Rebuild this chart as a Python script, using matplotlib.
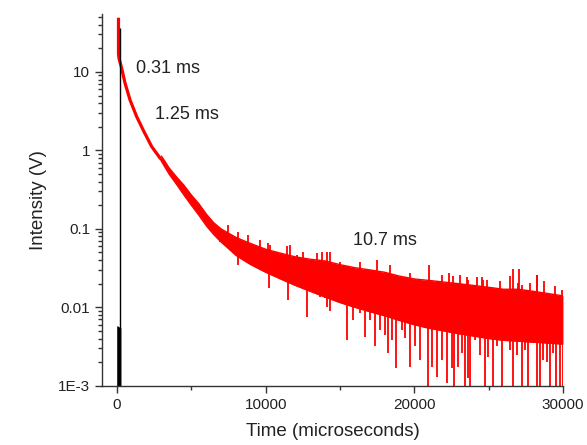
from __future__ import annotations

import matplotlib
matplotlib.use("Agg")
import matplotlib.pyplot as plt
import numpy as np

# early (thin) part of the decay
EARLY_T = [100, 100, 130, 315, 540, 875, 1320, 1770, 2330, 2890, 3200]
EARLY_V = [49.0, 17.0, 15.0, 11.1, 7.2, 4.4, 2.7, 1.8, 1.12, 0.8, 0.7]

# noisy band: upper and lower edge of the solid red body
BAND_T = [3000, 3500, 4000, 4500, 5000, 5500, 6000, 6500, 7000, 7500, 8000, 8500,
          9000, 10000, 11000, 12000, 13000, 14000, 15000, 16000, 17000, 18000,
          19000, 20000, 21000, 22000, 23000, 24000, 25000, 26000, 27000, 28000,
          29000, 30000]
BAND_UP = [0.84, 0.6, 0.46, 0.36, 0.27, 0.21, 0.155, 0.12, 0.1, 0.088, 0.078, 0.071,
           0.065, 0.055, 0.049, 0.044, 0.041, 0.039, 0.035, 0.032, 0.03, 0.028,
           0.025, 0.023, 0.022, 0.021, 0.02, 0.019, 0.018, 0.017, 0.017, 0.016,
           0.015, 0.014]
BAND_LOW = [0.72, 0.5, 0.37, 0.27, 0.2, 0.15, 0.11, 0.085, 0.068, 0.056, 0.046, 0.04,
            0.035, 0.028, 0.023, 0.019, 0.016, 0.0135, 0.0115, 0.01, 0.0088, 0.0078,
            0.0068, 0.006, 0.0054, 0.005, 0.0046, 0.0043, 0.004, 0.0038, 0.0037, 0.0036,
            0.0035, 0.0034]

# spikes sticking up out of the band
UP_SPIKE_T = [7487, 8160, 8830, 9617, 10176, 10319, 11450, 11634, 12083, 12532, 13427,
              13764, 14100, 14320, 15000, 16342, 17508, 18359, 19704, 21005, 21835,
              22330, 22618, 23067, 23517, 23627, 24189, 24525, 24634, 24860, 25757,
              26093, 26429, 26651, 26987, 27054, 27216, 27774, 28224, 28265, 28716,
              29119, 29455, 29906]
UP_SPIKE_V = [0.1125, 0.0924, 0.084, 0.0724, 0.0658, 0.0625, 0.0609, 0.0625, 0.0466,
              0.0514, 0.049, 0.0514, 0.0514, 0.051, 0.0383, 0.0383, 0.0402, 0.0348,
              0.0273, 0.0348, 0.026, 0.0276, 0.025, 0.026, 0.0247, 0.0224, 0.0247,
              0.0247, 0.0224, 0.0224, 0.0215, 0.016, 0.025, 0.0307, 0.0204, 0.0307,
              0.0192, 0.0204, 0.026, 0.026, 0.0215, 0.0144, 0.0185, 0.0164]

# spikes hanging down out of the band
DOWN_SPIKE_T = [6927, 7599, 8160, 8496, 9058, 9617, 10244, 10740, 11076, 11522, 11970,
                12307, 12757, 13201, 13652, 13988, 14100, 14324, 14660, 15447, 15894,
                16342, 16678, 17014, 17350, 17687, 18023, 18247, 18471, 18763, 19143,
                19368, 19704, 20040, 20376, 20891, 21160, 21497, 21833, 22170, 22506,
                22663, 22954, 23180, 23403, 23627, 23739, 24075, 24412, 24748, 24972,
                25308, 25535, 25871, 26207, 26429, 26651, 26880, 27216, 27438, 27660,
                27996, 28225, 28447, 28669, 28897, 29119, 29341, 29523, 29792, 30000]
DOWN_SPIKE_V = [0.0689, 0.054, 0.0348, 0.049, 0.0366, 0.03, 0.0176, 0.0247, 0.03, 0.0125,
                0.0224, 0.0203, 0.00764, 0.0167, 0.0137, 0.0131, 0.0102, 0.00885, 0.0125,
                0.00385, 0.00693, 0.00843, 0.00424, 0.00693, 0.00317, 0.00517, 0.00446,
                0.0026, 0.00385, 0.00168, 0.00517, 0.00405, 0.00176, 0.00317, 0.00214,
                0.001, 0.00176, 0.00131, 0.00214, 0.00109, 0.00168, 0.001, 0.00176,
                0.0026, 0.001, 0.00125, 0.001, 0.00385, 0.00248, 0.001, 0.00236, 0.001,
                0.00317, 0.001, 0.00446, 0.00287, 0.001, 0.00248, 0.001, 0.00287, 0.001,
                0.0035, 0.001, 0.001, 0.00214, 0.00204, 0.001, 0.0026, 0.001, 0.001, 0.001]

# black reference trace near t = 0
BLACK_LINE_T = 180
BLACK_LINE_TOP = 36.0
BLACK_SPIKE_T = [-20, 40, 100, 160, 220, 260]
BLACK_SPIKE_V = [0.0058, 0.0058, 0.0057, 0.0056, 0.0055, 0.0055]

ANNOTATIONS = [("0.31 ms", 1280, 11.2), ("1.25 ms", 2560, 2.83), ("10.7 ms", 15870, 0.0703)]

Y_TICKS = [1e-3, 1e-2, 1e-1, 1, 10]
Y_TICK_LABELS = ["1E-3", "0.01", "0.1", "1", "10"]
X_TICKS = [0, 10000, 20000, 30000]

RED = "#ff0000"
TEXT = "#222222"


def main() -> int:
    plt.rcParams["font.family"] = ["Liberation Sans", "DejaVu Sans"]
    fig = plt.figure(figsize=(5.87, 4.45), dpi=100)
    ax = fig.add_axes([0.174, 0.133, 0.785, 0.836])

    ax.plot(EARLY_T, EARLY_V, color=RED, lw=2.3, solid_capstyle="butt")
    ax.fill_between(BAND_T, BAND_LOW, BAND_UP, color=RED, lw=0)
    ax.plot(BAND_T, BAND_UP, color=RED, lw=1.0)
    ax.plot(BAND_T, BAND_LOW, color=RED, lw=1.0)

    up_base = np.interp(UP_SPIKE_T, BAND_T, BAND_LOW)
    ax.vlines(UP_SPIKE_T, up_base, UP_SPIKE_V, color=RED, lw=1.3)
    down_top = np.interp(DOWN_SPIKE_T, BAND_T, BAND_UP)
    ax.vlines(DOWN_SPIKE_T, DOWN_SPIKE_V, down_top, color=RED, lw=1.3)

    ax.fill_between(BLACK_SPIKE_T, 1e-4, BLACK_SPIKE_V, color="black", lw=0)
    ax.vlines([BLACK_LINE_T], 1e-4, BLACK_LINE_TOP, color="black", lw=1.0)

    for label, t, v in ANNOTATIONS:
        ax.text(t, v, label, ha="left", va="center", fontsize=13, color=TEXT)

    ax.set_yscale("log")
    ax.set_xlim(-1000, 30000)
    ax.set_ylim(1e-3, 55)
    ax.set_yticks(Y_TICKS)
    ax.set_yticklabels(Y_TICK_LABELS)
    ax.set_xticks(X_TICKS)
    ax.set_xticks([5000, 15000, 25000], minor=True)

    for side in ("top", "right"):
        ax.spines[side].set_visible(False)
    for side in ("left", "bottom"):
        ax.spines[side].set_color("#333333")
        ax.spines[side].set_linewidth(1.0)
    ax.tick_params(which="major", direction="out", length=5, width=1.0,
                   colors="#333333", labelcolor=TEXT, labelsize=11)
    ax.tick_params(which="minor", direction="out", length=3, width=1.0, colors="#333333")

    ax.set_xlabel("Time (microseconds)", fontsize=13.5, color=TEXT, labelpad=8)
    ax.set_ylabel("Intensity (V)", fontsize=13.5, color=TEXT, labelpad=8)

    fig.savefig("out.png", dpi=100)
    plt.close(fig)
    return 0


if __name__ == "__main__":
    raise SystemExit(main())
